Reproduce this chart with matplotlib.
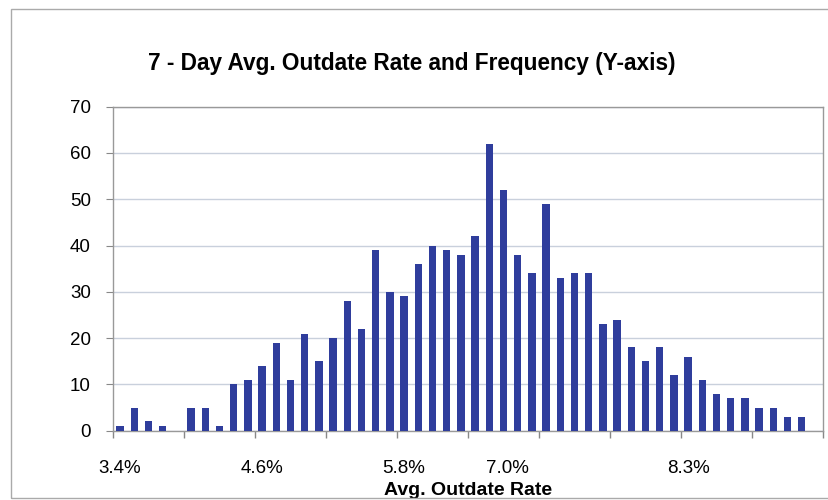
import matplotlib.pyplot as plt
from matplotlib.patches import Rectangle
import numpy as np

plt.rcParams['font.family'] = ['Liberation Sans', 'DejaVu Sans']

# Frequency of each 7-day avg outdate rate bin (50 bins)
counts = [1, 5, 2, 1, 0, 5, 5, 1, 10, 11,
          14, 19, 11, 21, 15, 20, 28, 22, 39, 30,
          29, 36, 40, 39, 38, 42, 62, 52, 38, 34,
          49, 33, 34, 34, 23, 24, 18, 15, 18, 12,
          16, 11, 8, 7, 7, 5, 5, 3, 3, 0]
rate_labels = ['3.4%', '4.6%', '5.8%', '7.0%', '8.3%']
label_bins = [0, 10, 20, 27.3, 40]

x = np.arange(len(counts))

fig = plt.figure(figsize=(8.29, 5.0), dpi=100)
ax = fig.add_axes([0.1363, 0.1386, 0.8565, 0.648])

ax.bar(x, counts, width=0.52, color='#2f3d9c', zorder=3)

ax.set_xlim(-0.5, len(counts) - 0.5)
ax.set_ylim(0, 70)
ax.set_yticks(range(0, 71, 10))
ax.yaxis.grid(True, color='#c9d0dc', linewidth=1.0, zorder=0)

# tick marks between every 5 bins, labels at selected bins
ax.set_xticks(np.arange(-0.5, len(counts), 5))
ax.set_xticklabels([])
ax.set_xticks(label_bins, minor=True)
ax.set_xticklabels(rate_labels, minor=True)
ax.tick_params(axis='x', which='major', length=5, color='#888888', width=1)
ax.tick_params(axis='x', which='minor', length=0, labelsize=13.5, pad=21)
ax.tick_params(axis='y', length=5, color='#888888', labelsize=13.5, pad=11)

for s in ax.spines.values():
    s.set_color('#999999')
    s.set_linewidth(1.0)

ax.set_xlabel('Avg. Outdate Rate', fontsize=14, fontweight='bold', labelpad=4)
fig.text(0.497, 0.873, '7 - Day Avg. Outdate Rate and Frequency (Y-axis)',
         fontsize=16.3, fontweight='bold', ha='center', va='center')

# outer chart border (right side cut off in the scan)
fig.patches.append(Rectangle((0.013, 0.004), 1.02, 0.978, transform=fig.transFigure,
                             fill=False, edgecolor='#aaaaaa', linewidth=1.0))

fig.savefig('out.png', dpi=100, facecolor='white')
